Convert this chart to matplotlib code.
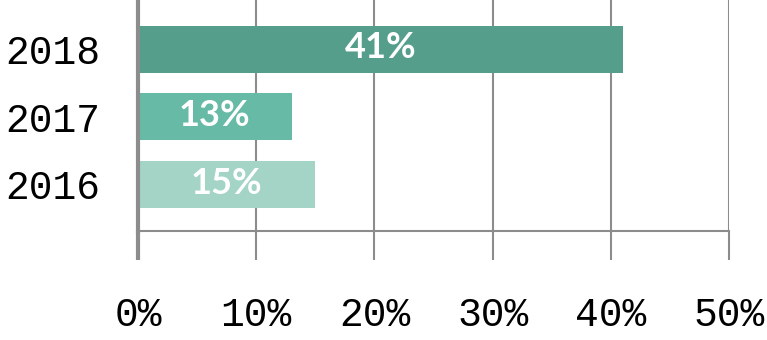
import matplotlib
matplotlib.use("Agg")
import matplotlib.pyplot as plt

years = ["2016", "2017", "2018"]
values = [15, 13, 41]
colors = ["#A3D4C6", "#66BAA6", "#559E8C"]
xticks = [0, 10, 20, 30, 40, 50]
xtick_labels = ["0%", "10%", "20%", "30%", "40%", "50%"]

fig = plt.figure(figsize=(7.67, 3.40), dpi=100)
ax = fig.add_axes([138/767, 109/340, (729-138)/767, 231/340])

pos = list(range(len(years)))
bars = ax.barh(pos, values, height=0.7, color=colors, zorder=3)
for p, v in zip(pos, values):
    ax.text(v/2, p + 0.02, f"{v}%", ha="center", va="center", color="white",
            fontsize=26, fontweight="bold", family="Lato", zorder=4)

ax.set_xlim(0, 50)
ax.set_ylim(-0.69, 2.73)
ax.set_xticks(xticks)
ax.set_xticklabels(xtick_labels, family="Liberation Mono", fontsize=28.5)
ax.set_yticks(pos)
ax.set_yticklabels(years, family="Liberation Mono", fontsize=28.5)
ax.tick_params(axis="y", length=0, pad=27)
ax.tick_params(axis="x", length=21, width=1.5, color="#8c8c8c", pad=26)
ax.xaxis.grid(True, color="#8c8c8c", linewidth=1.5, zorder=1)
ax.set_axisbelow(True)
for s in ["top", "right"]:
    ax.spines[s].set_visible(False)
ax.spines["bottom"].set_color("#8c8c8c")
ax.spines["bottom"].set_linewidth(1.5)
ax.spines["left"].set_color("#8c8c8c")
ax.spines["left"].set_linewidth(3)
ax.spines["left"].set_zorder(5)
ax.xaxis.get_major_ticks()[0].tick1line.set_markeredgewidth(3)

fig.savefig("out.png", dpi=100)
